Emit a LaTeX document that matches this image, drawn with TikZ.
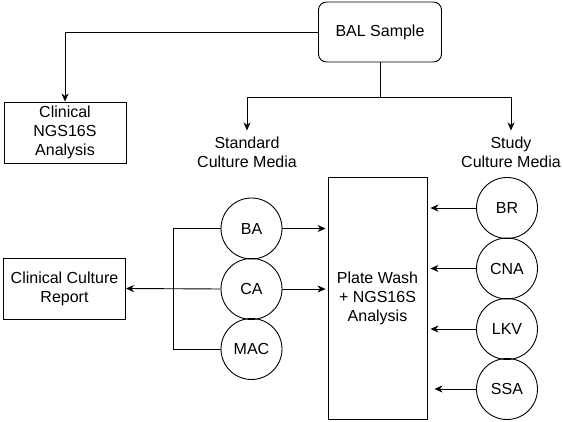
\documentclass[tikz,border=0pt]{standalone}
\usepackage{fontspec}
\setmainfont{Liberation Sans}
\usetikzlibrary{arrows.meta}
\begin{document}
\begin{tikzpicture}
[x=1pt, y=-1pt,
  boxdecorate/.style={shape=rectangle,draw,line width=0.9pt,align=center,inner sep=0pt},
  platedecorate/.style={shape=circle,draw,line width=0.9pt,minimum size=61pt,inner sep=0pt},
  textdecorate/.style={align=center,inner sep=6pt},
  linedecorate/.style={-,line width=0.9pt},
  arrowdecorate/.style={line width=0.9pt,-{Stealth[length=8pt,width=7pt,inset=2.5pt]}},
  font=\fontsize{16}{19}\selectfont]
\useasboundingbox (0,0) rectangle (563,422);
%% boxes
\node (bal) at (380,32) [boxdecorate,rounded corners=8pt,minimum width=123pt,minimum height=60pt] {BAL Sample};
\node (ngs) at (65,132.5) [boxdecorate,minimum width=122pt,minimum height=61pt] {Clinical\\NGS16S\\Analysis};
\node (report) at (64.5,288.5) [boxdecorate,minimum width=122pt,minimum height=61pt] {Clinical Culture\\Report};
\node (plate) at (377.5,298) [boxdecorate,minimum width=99pt,minimum height=242pt] {Plate Wash\\+ NGS16S\\Analysis};
%% media labels
\node (standard) at (247,152) [textdecorate] {Standard\\Culture Media};
\node (study) at (511,152) [textdecorate] {Study\\Culture Media};
%% plates
\foreach \nodename/\x/\y in {BA/251.5/228.5, CA/251.5/289, MAC/251.5/349} {
  \node (\nodename) at (\x,\y) [platedecorate] {\nodename};
}
\foreach \nodename/\x/\y in {BR/507/208, CNA/507/268.5, LKV/507/329, SSA/507/389} {
  \node (\nodename) at (\x,\y) [platedecorate] {\nodename};
}
%% stub points
\coordinate (split) at (380,97.5);
\coordinate (brTop) at (173.5,228.5);
\coordinate (brBottom) at (173.5,349);
%% edges or lines
\draw[arrowdecorate] (bal.west) -| (ngs.north);
\draw[linedecorate] (bal.south) -- (split);
\draw[arrowdecorate] (split) -| (standard.north);
\draw[arrowdecorate] (split) -| (study.north);
\draw[linedecorate] (BA.west) -- (brTop) -- (brBottom) -- (MAC.west);
\draw[arrowdecorate] (CA.west) -- (report.east);
\foreach \startnode in {BA, CA} {
  \draw[arrowdecorate,shorten >=2pt] (\startnode.east) -- (\startnode.east -| plate.west);
}
\foreach \startnode in {BR, CNA, LKV} {
  \draw[arrowdecorate,shorten >=3pt] (\startnode.west) -- (\startnode.west -| plate.east);
}
\draw[arrowdecorate,shorten >=7pt] (SSA.west) -- (SSA.west -| plate.east);
\end{tikzpicture}
\end{document}
